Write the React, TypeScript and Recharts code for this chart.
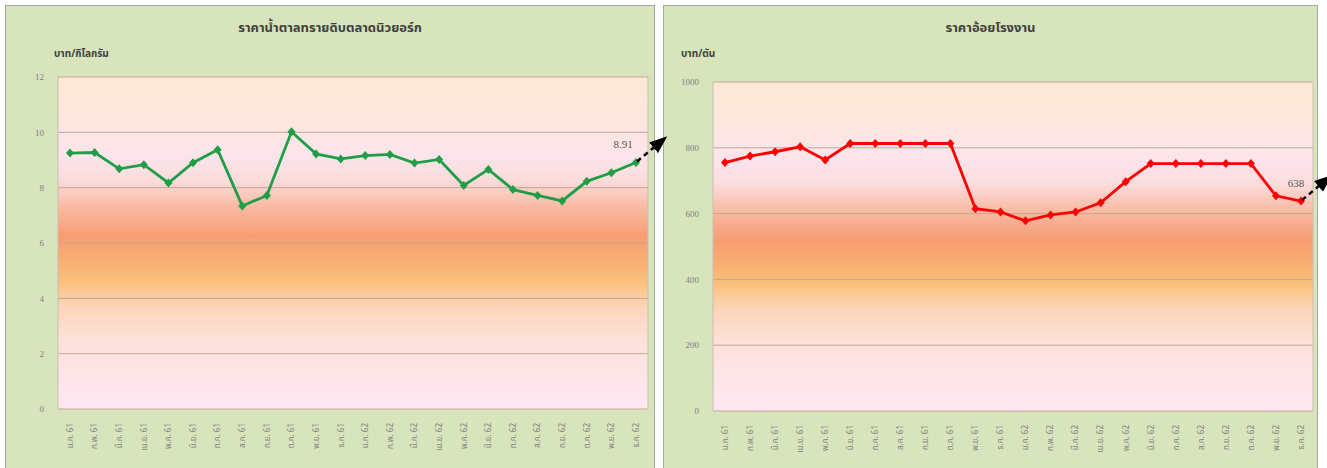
import React from 'react'
import {
  LineChart,
  Line,
  XAxis,
  YAxis,
  CartesianGrid,
  LabelList,
} from 'recharts'

const months = [
  'ม.ค. 61', 'ก.พ. 61', 'มี.ค. 61', 'เม.ย. 61', 'พ.ค. 61', 'มิ.ย. 61',
  'ก.ค. 61', 'ส.ค. 61', 'ก.ย. 61', 'ต.ค. 61', 'พ.ย. 61', 'ธ.ค. 61',
  'ม.ค. 62', 'ก.พ. 62', 'มี.ค. 62', 'เม.ย. 62', 'พ.ค. 62', 'มิ.ย. 62',
  'ก.ค. 62', 'ส.ค. 62', 'ก.ย. 62', 'ต.ค. 62', 'พ.ย. 62', 'ธ.ค. 62',
]

// ราคาน้ำตาลทรายดิบ (บาท/กิโลกรัม)
const sugarPrice = [
  9.25, 9.27, 8.68, 8.83, 8.17, 8.9, 9.37, 7.34, 7.72, 10.02, 9.22, 9.04,
  9.16, 9.2, 8.89, 9.02, 8.08, 8.66, 7.93, 7.72, 7.52, 8.23, 8.54, 8.91,
]

// ราคาอ้อยโรงงาน (บาท/ตัน)
const canePrice = [
  755, 775, 788, 803, 763, 813, 813, 813, 813, 813, 615, 605,
  578, 596, 605, 633, 697, 752, 752, 752, 752, 752, 654, 638,
]

const sugarTicks = [0, 2, 4, 6, 8, 10, 12]
const caneTicks = [0, 200, 400, 600, 800, 1000]

const sugarRows = months.map((m, i) => ({ month: m, price: sugarPrice[i] }))
const caneRows = months.map((m, i) => ({ month: m, price: canePrice[i] }))

const THAI_FONT = '"Noto Sans Thai", "Noto Sans", Tahoma, sans-serif'
const PANEL_BG = '#d8e4bc'

function MonthTick(props: any) {
  const { x, y, payload } = props
  return (
    <g transform={`translate(${x},${y})`}>
      <text
        transform="rotate(-90)"
        x={-6}
        dy="0.35em"
        textAnchor="end"
        fontSize={8}
        fill="#7f7f7f"
        fontFamily={THAI_FONT}
      >
        {payload.value}
      </text>
    </g>
  )
}

function makeDot(color: string) {
  return (p: any) => {
    const { cx, cy, index } = p
    if (cx == null || cy == null) return <g key={`d-${index}`} />
    return (
      <path
        key={`d-${index}`}
        d={`M${cx},${cy - 4.5}L${cx + 4},${cy}L${cx},${cy + 4.5}L${cx - 4},${cy}Z`}
        fill={color}
      />
    )
  }
}

function makeEndLabel(last: number, dx: number) {
  return (p: any) => {
    const { x, y, index, value } = p
    if (index !== last) return null
    return (
      <g>
        <text
          x={x + dx}
          y={y - 14}
          textAnchor="middle"
          fontSize={11}
          fill="#595959"
          fontFamily="'Liberation Serif', serif"
        >
          {value}
        </text>
        <line
          x1={x + 1}
          y1={y - 1}
          x2={x + 19}
          y2={y - 16}
          stroke="#000"
          strokeWidth={2.5}
          strokeDasharray="5 4"
          markerEnd="url(#arrowHead)"
        />
      </g>
    )
  }
}

const frameEdges = ({ offset }: any) => [offset.left, offset.left + offset.width]

function Panel(props: {
  left: number
  width: number
  title: string
  unit: string
  unitLeft: number
  children: React.ReactNode
  z: number
}) {
  return (
    <div
      style={{
        position: 'absolute',
        left: props.left,
        top: 5,
        width: props.width,
        height: 470,
        background: PANEL_BG,
        border: '1px solid #a6a6a6',
        boxSizing: 'border-box',
        zIndex: props.z,
      }}
    >
      <div
        style={{
          position: 'absolute',
          left: 0,
          top: 12,
          width: '100%',
          textAlign: 'center',
          fontFamily: THAI_FONT,
          fontWeight: 'bold',
          fontSize: 13,
          color: '#404040',
        }}
      >
        {props.title}
      </div>
      <div
        style={{
          position: 'absolute',
          left: props.unitLeft,
          top: 40,
          fontFamily: THAI_FONT,
          fontWeight: 'bold',
          fontSize: 10,
          color: '#404040',
        }}
      >
        {props.unit}
      </div>
      <div style={{ position: 'absolute', left: -1, top: -1 }}>{props.children}</div>
    </div>
  )
}

export default function App() {
  return (
    <div
      style={{
        position: 'fixed',
        left: 0,
        top: 0,
        width: 1327,
        height: 468,
        background: '#fff',
        overflow: 'hidden',
      }}
    >
      <style>{`.recharts-surface{overflow:visible}`}</style>
      <svg width={0} height={0} style={{ position: 'absolute' }}>
        <defs>
          <linearGradient id="bgGrad" x1="0" y1="0" x2="0" y2="1">
            <stop offset="0" stopColor="#fde9d5" />
            <stop offset="0.12" stopColor="#fde7dd" />
            <stop offset="0.24" stopColor="#fce4ec" />
            <stop offset="0.31" stopColor="#fbdcdc" />
            <stop offset="0.39" stopColor="#f9bba4" />
            <stop offset="0.48" stopColor="#f79c72" />
            <stop offset="0.56" stopColor="#f9b072" />
            <stop offset="0.62" stopColor="#fbc27e" />
            <stop offset="0.69" stopColor="#fcd5b8" />
            <stop offset="0.8" stopColor="#fde2dc" />
            <stop offset="1" stopColor="#fde8f3" />
          </linearGradient>
          <marker
            id="arrowHead"
            markerUnits="userSpaceOnUse"
            markerWidth={18}
            markerHeight={14}
            refX={2}
            refY={7}
            orient="auto"
          >
            <path d="M0,0L18,7L0,14Z" fill="#000" />
          </marker>
        </defs>
      </svg>

      <Panel left={5} width={650} title="ราคาน้ำตาลทรายดิบตลาดนิวยอร์ก" unit="บาท/กิโลกรัม" unitLeft={48} z={2}>
        <LineChart
          width={650}
          height={463}
          data={sugarRows}
          margin={{ top: 72, right: 7, left: 0, bottom: 0 }}
        >
          <CartesianGrid vertical={false} stroke="#bfa89a" fill="url(#bgGrad)" fillOpacity={1} />
          <CartesianGrid horizontal={false} stroke="#cdbcb0" verticalCoordinatesGenerator={frameEdges} />
          <XAxis
            dataKey="month"
            interval={0}
            tick={<MonthTick />}
            tickLine={false}
            axisLine={false}
            height={59}
            padding={{ left: 12, right: 12 }}
          />
          <YAxis
            domain={[0, 12]}
            ticks={sugarTicks}
            width={53}
            tickLine={false}
            axisLine={false}
            tickMargin={8}
            tick={{ fill: '#808080', fontSize: 9 }}
          />
          <Line
            dataKey="price"
            stroke="#1f9e48"
            strokeWidth={2.8}
            dot={makeDot('#1f9e48')}
            activeDot={false}
            isAnimationActive={false}
          >
            <LabelList dataKey="price" content={makeEndLabel(sugarPrice.length - 1, -13)} />
          </Line>
        </LineChart>
      </Panel>

      <Panel left={663} width={655} title="ราคาอ้อยโรงงาน" unit="บาท/ตัน" unitLeft={17} z={1}>
        <LineChart
          width={655}
          height={463}
          data={caneRows}
          margin={{ top: 77, right: 5, left: 0, bottom: 0 }}
        >
          <CartesianGrid vertical={false} stroke="#bfa89a" fill="url(#bgGrad)" fillOpacity={1} />
          <CartesianGrid horizontal={false} stroke="#cdbcb0" verticalCoordinatesGenerator={frameEdges} />
          <XAxis
            dataKey="month"
            interval={0}
            tick={<MonthTick />}
            tickLine={false}
            axisLine={false}
            height={57}
            padding={{ left: 12, right: 12 }}
          />
          <YAxis
            domain={[0, 1000]}
            ticks={caneTicks}
            width={50}
            tickLine={false}
            axisLine={false}
            tickMargin={8}
            tick={{ fill: '#808080', fontSize: 9 }}
          />
          <Line
            dataKey="price"
            stroke="#ff0000"
            strokeWidth={2.8}
            dot={makeDot('#ff0000')}
            activeDot={false}
            isAnimationActive={false}
          >
            <LabelList dataKey="price" content={makeEndLabel(canePrice.length - 1, -5)} />
          </Line>
        </LineChart>
      </Panel>
    </div>
  )
}
